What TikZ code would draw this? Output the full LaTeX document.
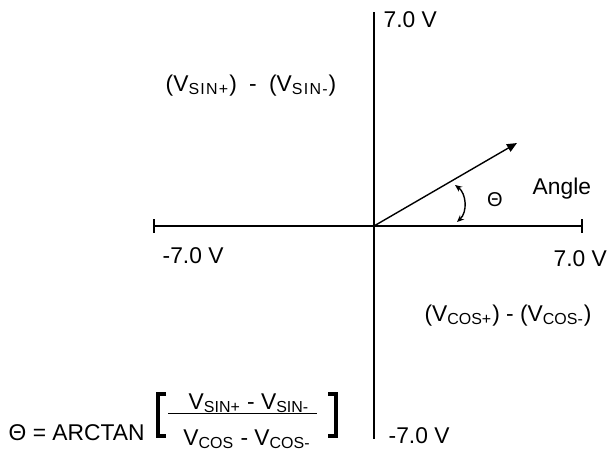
\documentclass[tikz,border=0pt]{standalone}
\usepackage{fontspec}
\setmainfont{Liberation Sans}
\usetikzlibrary{calc,arrows.meta}
\newcommand{\vsub}[1]{\textsubscript{#1}}
\newcommand{\vsubw}[1]{\textsubscript{\addfontfeature{LetterSpace=8}#1}}

\begin{document}
\begin{tikzpicture}[x=0.5pt,y=0.5pt,line width=0.7pt,
  font=\fontsize{11.4}{13}\selectfont,
  lbl/.style={inner sep=0pt,anchor=base west},
  brk/.style={line width=1.9pt,line join=miter}]
\useasboundingbox (0,0) rectangle (616,452);
\coordinate (O) at (374,226);
\coordinate (T) at (374,440);
\coordinate (B) at (374,13);
\coordinate (L) at (154,226);
\coordinate (R) at (582,226);
\coordinate (P) at (517,309);

\coordinate (A1) at (457,230);
\coordinate (A2) at (455,267);

\coordinate (F1) at (168,39);
\coordinate (F2) at (317,39);
\node[lbl] (top) at (383,425) {7.0 V};
\node[lbl] (bot) at (388,9) {-7.0 V};
\node[lbl] (left) at (162,189) {-7.0 V};
\node[lbl] (right) at (553,186) {7.0 V};
\node[lbl] (angle) at (532,258) {Angle};
\node[inner sep=0pt] (theta) at (495,252) {\fontsize{10}{12}\selectfont Θ};
\node[inner sep=0pt,anchor=base] (sin) at (251,361)
  {(V\vsubw{SIN+})\hspace{3pt} - \hspace{3pt}(V\vsubw{SIN-})};
\node[inner sep=0pt,anchor=base] (cos) at (508,131) {(V\vsub{COS+}) - (V\vsub{COS-})};

\node[lbl] (arctan) at (8,12) {Θ = ARCTAN};
\node[inner sep=0pt,anchor=base] (num) at (249,43) {V\vsub{SIN+} - V\vsub{SIN-}};
\node[inner sep=0pt,anchor=base] (den) at (247,7) {V\vsub{COS} - V\vsub{COS-}};
\draw[line width=0.5pt] (F1) -- (F2);
\draw[brk] (166,58) -- (158,58) -- (158,16) -- (166,16);
\draw[brk] (328,58) -- (336,58) -- (336,16) -- (328,16);

\draw (T) -- (B);
\draw (L) -- (R);
\draw ($(L)+(0,7)$) -- ($(L)+(0,-7)$);
\draw ($(R)+(0,7)$) -- ($(R)+(0,-7)$);
\draw[-{Triangle[length=5pt,width=4.2pt]}] (O) -- (P);
\draw[{Stealth[length=3.5pt,width=3pt]}-{Stealth[length=3.5pt,width=3pt]}]
  (A1) to[bend right=50] (A2);

\end{tikzpicture}
\end{document}
